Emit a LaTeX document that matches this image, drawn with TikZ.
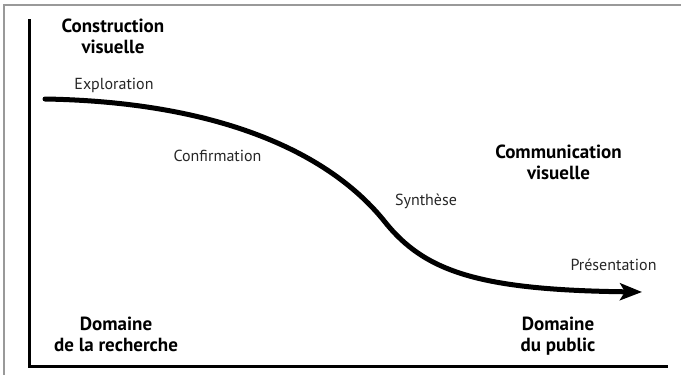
\documentclass[tikz,border=0pt]{standalone}
\usepackage{fontspec}
\setmainfont{PT Sans}
\usetikzlibrary{arrows.meta}
\tikzset{
  x=1pt,y=-1pt,
  frameline/.style={draw=black!40, line width=1.5pt},
  axisline/.style={draw=black, line width=3pt, line join=miter},
  curveline/.style={draw=black, line width=5pt, line cap=round, -{Stealth[length=22pt,width=17pt,inset=5pt]}},
  title/.style={font=\fontsize{19}{20.5}\selectfont\bfseries, align=center, inner sep=0pt, anchor=base},
  stage/.style={font=\fontsize{16}{18}\selectfont, inner sep=0pt, text=black!85, anchor=base},
}
\begin{document}
\begin{tikzpicture}
\useasboundingbox (0,0) rectangle (681,375);
\coordinate (ftr) at (681,5);
\coordinate (ftl) at (4,5);
\coordinate (fbl) at (4,375);
\draw[frameline] (ftr) -- (ftl) -- (fbl);
\coordinate (ytop) at (29,19);
\coordinate (orig) at (29,366);
\coordinate (xend) at (668,366);
\draw[axisline] (ytop) -- (orig) -- (xend);
\coordinate (cs) at (45,99);
\coordinate (cm) at (385,222);
\coordinate (ce) at (642,292);
\draw[curveline] (cs) .. controls (220,102) and (330,153) .. (cm) .. controls (425,272) and (480,290) .. (ce);
\node[title] (cv) at (113,53) {Construction\\visuelle};
\node[title] (comv) at (558.5,179) {Communication\\visuelle};
\node[title] (dr) at (116,351) {Domaine\\de la recherche};
\node[title] (dp) at (558,351) {Domaine\\du public};
\node[stage] (expl) at (114,89) {Exploration};
\node[stage] (conf) at (217.5,161) {Confirmation};
\node[stage] (syn) at (426,205) {Synthèse};
\node[stage] (pres) at (613.5,270) {Présentation};
\end{tikzpicture}
\end{document}
